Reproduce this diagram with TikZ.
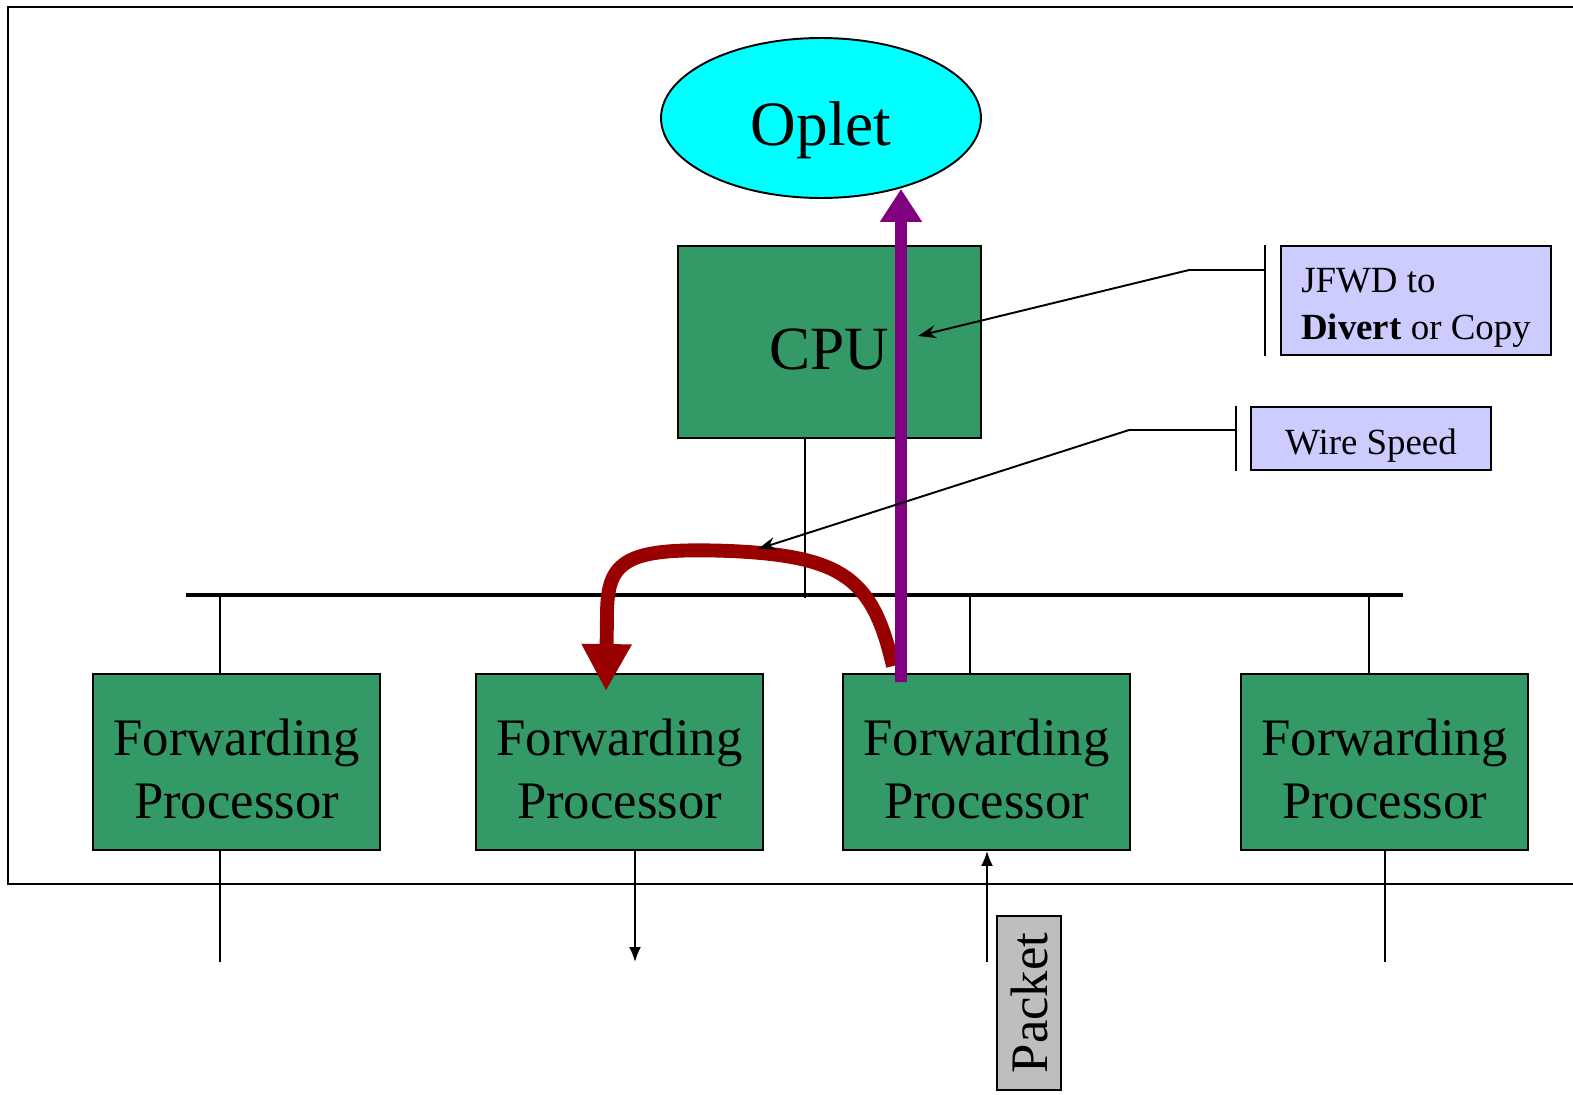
\documentclass[tikz,border=0pt]{standalone}
\usepackage{fontspec}
\usetikzlibrary{shapes.geometric}
\usetikzlibrary{arrows.meta}
\newfontfamily\tnr{Liberation Serif}
\definecolor{fpgreen}{RGB}{51,153,102}
\definecolor{opletcyan}{RGB}{0,255,255}
\definecolor{notefill}{RGB}{204,204,255}
\definecolor{packetgray}{RGB}{190,190,190}
\definecolor{divert}{RGB}{128,0,128}
\definecolor{copyred}{RGB}{153,0,0}
\tikzset{unit/.style={draw=black, line width=1.1pt, fill=fpgreen, inner sep=0pt, align=center},
 fwd/.style={unit, minimum width=5.74cm, minimum height=3.52cm,
   font=\tnr\fontsize{30}{36}\selectfont},
 note/.style={draw=black, line width=1.1pt, fill=notefill, inner sep=0pt},
 thin/.style={line width=1.1pt},
 callout/.style={thin, -{Stealth[length=0.36cm,width=0.26cm]}},
 smallarrow/.style={thin, -{Latex[length=0.3cm,width=0.24cm]}},
 }

\begin{document}
\begin{tikzpicture}[x=0.02cm, y=-0.02cm]
        \useasboundingbox (0,0) rectangle (1573,1095);
        \clip (0,0) rectangle (1573,1095);
        \draw[line width=1.2pt] (8,7) rectangle (1600,884);

        % oplet and cpu
        \node[ellipse, draw, line width=1.1pt, fill=opletcyan, minimum width=6.4cm, minimum height=3.2cm,
          text height=31.8pt, text depth=0pt,
          font=\tnr\fontsize{36}{40}\selectfont] (oplet) at (821,118) {Oplet};
        \node[unit, minimum width=6.06cm, minimum height=3.84cm, text height=31.8pt, text depth=0pt,
          font=\tnr\fontsize{35}{40}\selectfont] (cpu) at (829.5,342) {CPU};

        % bus
        \coordinate (busl) at (186,595);
        \coordinate (busr) at (1403,595);
        \draw[line width=2.3pt] (busl) -- (busr);

        % forwarding processors
        \foreach \n/\x in {1/236.5, 2/619.5, 3/986.5, 4/1384.5}
          \node[fwd] (fp\n) at (\x,762) {\rule{0pt}{29pt}Forwarding\\Processor};

        \draw[thin] (cpu.south -| 805,0) -- (805,598);
        \draw[thin] (220,595) -- (fp1.north -| 220,0);
        \draw[thin] (970,595) -- (fp3.north -| 970,0);
        \draw[thin] (1369,595) -- (fp4.north -| 1369,0);

        \draw[thin] (fp1.south -| 220,0) -- (220,962);
        \draw[smallarrow] (fp2.south -| 635,0) -- (635,962);
        \draw[smallarrow] (987,962) -- (fp3.south -| 987,0);
        \draw[thin] (fp4.south -| 1385,0) -- (1385,962);

        \node[draw, line width=1pt, fill=packetgray, rotate=90, minimum width=3.48cm, minimum height=1.28cm,
          inner sep=0pt, font=\tnr\fontsize{30}{34}\selectfont] (packet) at (1029,1003) {Packet};

        % copy and divert paths
        \draw[line width=7.9pt, copyred, -{Triangle[length=0.94cm,width=0.94cm]}]
          ([xshift=-1.87cm,yshift=0.14cm]fp3.north) .. controls (873,580) and (845,556) .. (730,551)
          .. controls (625,547) and (607,560) .. (607,615) -- ([xshift=-0.27cm,yshift=-0.36cm]fp2.north);
        \draw[line width=6.8pt, divert, -{Triangle[length=0.66cm,width=0.8cm]}]
          ([xshift=-1.71cm,yshift=-0.18cm]fp3.north) -- ([xshift=1.6cm,yshift=0.2cm]oplet.south);

        % notes
        \node[note, align=left, minimum width=5.4cm, minimum height=2.18cm,
          font=\tnr\fontsize{21}{26.6}\selectfont] (jfwd) at (1416,300.5)
          {\rule{0pt}{22pt}JFWD to\\\textbf{Divert} or Copy};
        \node[note, minimum width=4.8cm, minimum height=1.26cm, text height=23.3pt, text depth=4.6pt,
          font=\tnr\fontsize{21}{25}\selectfont] (wire) at (1371,438.5) {Wire Speed};

        \draw[thin] ([xshift=-0.3cm]jfwd.north west) -- ([xshift=-0.3cm]jfwd.south west);
        \draw[callout] ([xshift=-0.3cm,yshift=0.61cm]jfwd.west) -- ++(-1.52cm,0) -- (918,336);
        \draw[thin] ([xshift=-0.28cm]wire.north west) -- ([xshift=-0.28cm]wire.south west);
        \draw[callout] ([xshift=-0.28cm,yshift=0.17cm]wire.west) -- ++(-2.14cm,0) -- (758,549);
\end{tikzpicture}
\end{document}
